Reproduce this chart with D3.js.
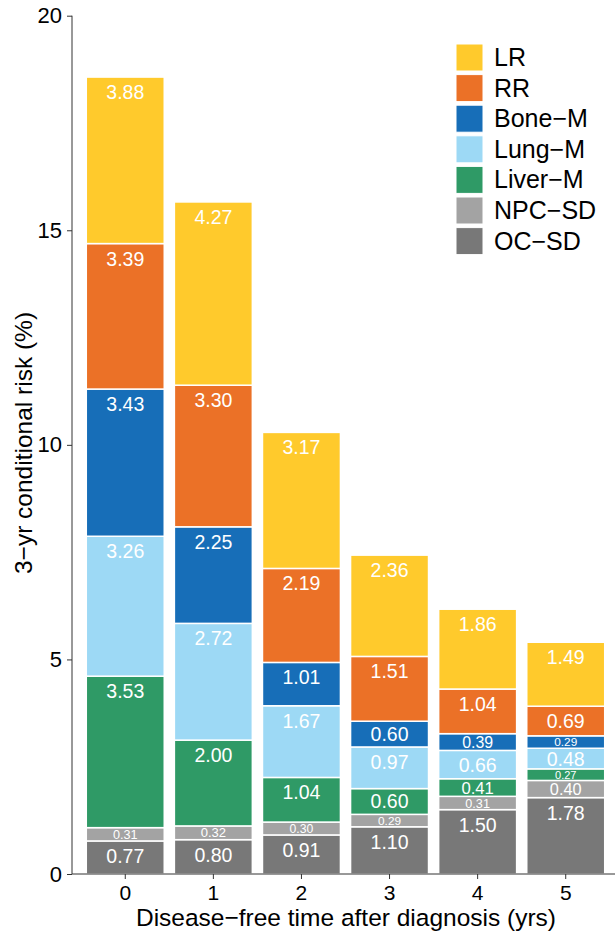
<!DOCTYPE html>
<html>
<head>
<meta charset="utf-8">
<script src="https://cdn.jsdelivr.net/npm/d3@7"></script>
<style>
  body { margin: 0; background: #fff; }
  svg { display: block; font-family: "Liberation Sans", Arial, Helvetica, sans-serif; }
</style>
</head>
<body>
<div id="chart"></div>
<script>
// years since diagnosis (disease-free)
var years = ["0", "1", "2", "3", "4", "5"];

// 3-yr conditional risk (%) per event type
var ocSD   = [0.77, 0.80, 0.91, 1.10, 1.50, 1.78];
var npcSD  = [0.31, 0.32, 0.30, 0.29, 0.31, 0.40];
var liverM = [3.53, 2.00, 1.04, 0.60, 0.41, 0.27];
var lungM  = [3.26, 2.72, 1.67, 0.97, 0.66, 0.48];
var boneM  = [3.43, 2.25, 1.01, 0.60, 0.39, 0.29];
var rr     = [3.39, 3.30, 2.19, 1.51, 1.04, 0.69];
var lr     = [3.88, 4.27, 3.17, 2.36, 1.86, 1.49];

// stacking order, bottom to top
var keys = ["OC-SD", "NPC-SD", "Liver-M", "Lung-M", "Bone-M", "RR", "LR"];
var seriesValues = [ocSD, npcSD, liverM, lungM, boneM, rr, lr];
var colors = ["#787878", "#a3a3a3", "#2f9a66", "#9dd9f5", "#176eb8", "#eb7127", "#ffca2c"];
var legendLabels = ["LR", "RR", "Bone\u2212M", "Lung\u2212M", "Liver\u2212M", "NPC\u2212SD", "OC\u2212SD"];
var yTicks = [0, 5, 10, 15, 20];

var width = 615, height = 933;

var rows = years.map(function(yr, i) {
  var row = { year: yr };
  keys.forEach(function(k, j) { row[k] = seriesValues[j][i]; });
  return row;
});

var color = d3.scaleOrdinal().domain(keys).range(colors);

var x = d3.scaleBand().domain(years).range([81, 610]).paddingInner(0.115).paddingOuter(0.06);
var y = d3.scaleLinear().domain([0, 20]).range([874, 15.7]);

var svg = d3.select("#chart").append("svg")
  .attr("width", width)
  .attr("height", height);

var stacked = d3.stack().keys(keys)(rows);

var layer = svg.append("g").selectAll("g")
  .data(stacked)
  .join("g")
  .attr("fill", function(d) { return color(d.key); });

layer.selectAll("rect")
  .data(function(d) { return d; })
  .join("rect")
  .attr("x", function(d) { return x(d.data.year); })
  .attr("y", function(d) { return y(d[1]); })
  .attr("width", x.bandwidth())
  .attr("height", function(d) { return y(d[0]) - y(d[1]); })
  .style("stroke", "#fff")
  .style("stroke-width", 1.5);

// labels: top aligned, shrink to fit small segments
layer.selectAll("text")
  .data(function(d) { return d; })
  .join("text")
  .attr("x", function(d) { return x(d.data.year) + x.bandwidth() / 2; })
  .attr("text-anchor", "middle")
  .attr("fill", "#fff")
  .each(function(d) {
    var h = y(d[0]) - y(d[1]);
    var fs = Math.min(19.5, h * 0.95);
    var cap = 0.72 * fs;
    var pad = Math.min(8, (h - cap) / 2);
    d3.select(this)
      .attr("font-size", fs)
      .attr("y", y(d[1]) + pad + cap);
  })
  .text(function(d) { return (d[1] - d[0]).toFixed(2); });

// axes
var yAxis = svg.append("g")
  .attr("transform", "translate(72,0)")
  .call(d3.axisLeft(y).tickValues(yTicks).tickSize(5).tickPadding(5));
yAxis.select(".domain").attr("stroke", "#333").attr("d", "M0," + y(0) + "V" + y(20));
yAxis.selectAll(".tick line").attr("stroke", "#333");
yAxis.selectAll("text").attr("font-size", 22).attr("fill", "#000").attr("font-family", null);

var xAxis = svg.append("g")
  .attr("transform", "translate(0,874)")
  .call(d3.axisBottom(x).tickSize(5).tickPadding(6));
xAxis.select(".domain").attr("stroke", "#333").attr("d", "M72,0H615");
xAxis.selectAll(".tick line").attr("stroke", "#333");
xAxis.selectAll("text").attr("font-size", 21).attr("fill", "#000").attr("font-family", null);

svg.append("text")
  .attr("x", 346)
  .attr("y", 926)
  .attr("text-anchor", "middle")
  .attr("font-size", 24.5)
  .text("Disease\u2212free time after diagnosis (yrs)");

svg.append("text")
  .attr("transform", "translate(32,443) rotate(-90)")
  .attr("text-anchor", "middle")
  .attr("font-size", 24.5)
  .text("3\u2212yr conditional risk (%)");

// legend
var legend = svg.append("g").attr("transform", "translate(456,44)");
var legItems = legend.selectAll("g")
  .data(legendLabels)
  .join("g")
  .attr("transform", function(d, i) { return "translate(0," + i * 30.6 + ")"; });

legItems.append("rect")
  .attr("width", 27)
  .attr("height", 27)
  .attr("fill", function(d, i) { return colors[colors.length - 1 - i]; })
  .style("stroke", "#fff")
  .style("stroke-width", 1);

legItems.append("text")
  .attr("x", 38)
  .attr("y", 22)
  .attr("font-size", 25)
  .text(function(d) { return d; });
</script>
</body>
</html>
